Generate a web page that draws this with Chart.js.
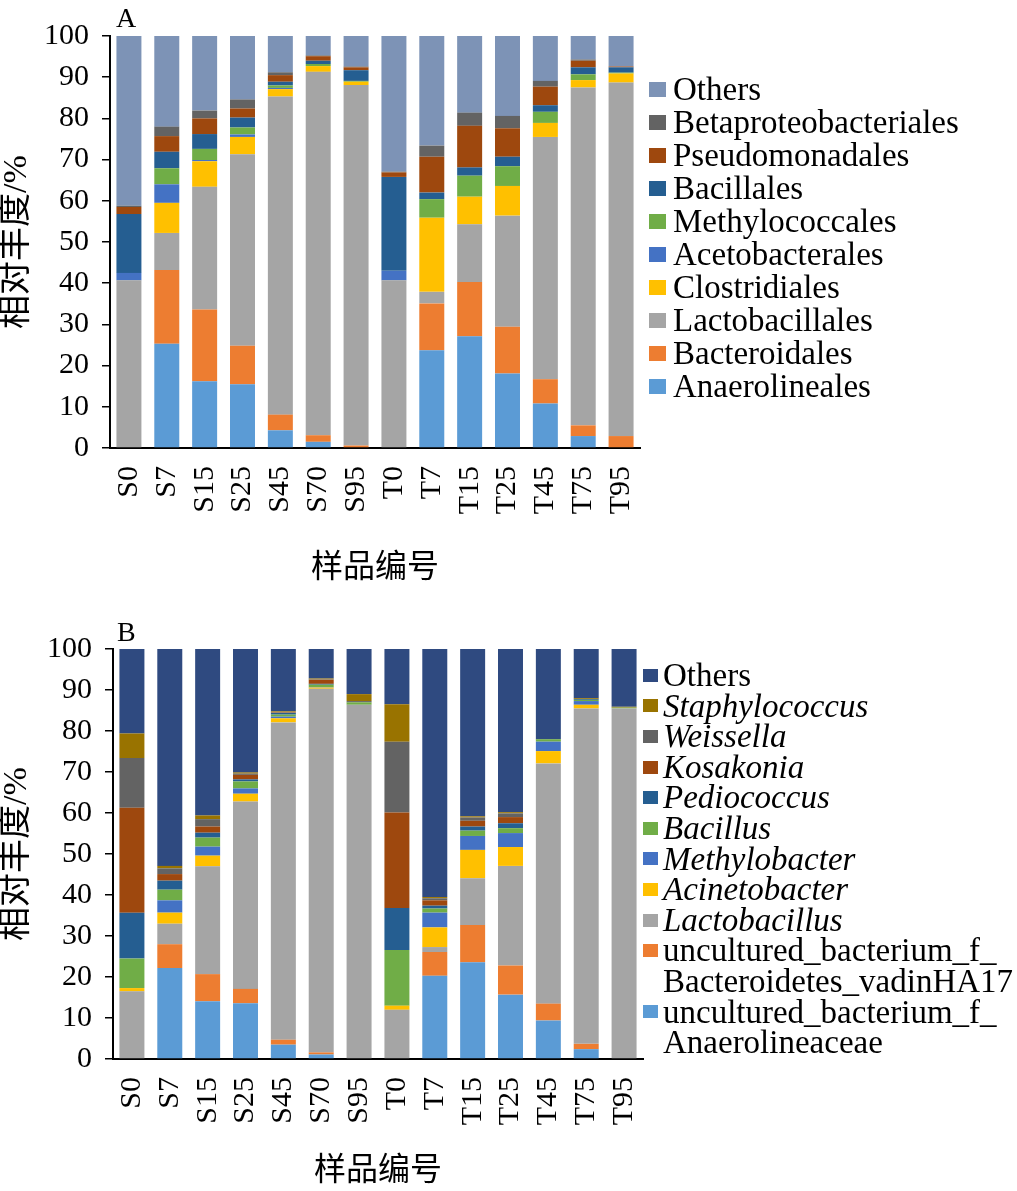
<!DOCTYPE html>
<html><head><meta charset="utf-8">
<script src="https://cdn.jsdelivr.net/npm/chart.js@4.4.1/dist/chart.umd.min.js"></script>
<style>
html,body{margin:0;padding:0;background:#fff;}
body{width:1017px;height:1191px;position:relative;overflow:hidden;font-family:'Liberation Serif','Times New Roman','Noto Sans CJK SC',serif;}
#wa{position:absolute;left:0;top:0;width:1017px;height:600px;}
#wb{position:absolute;left:0;top:600px;width:1017px;height:591px;}
.lg{position:absolute;color:#000;white-space:nowrap;font-size:33px;}
.it{position:relative;}
.bx{position:absolute;left:0;}
.lt{position:absolute;color:#000;line-height:1;}
</style></head><body>
<div id="wa"><canvas id="ca"></canvas></div>
<div id="wb"><canvas id="cb"></canvas></div>
<div class="lt" style="left:116px;top:4px;font-size:28px;">A</div>
<div class="lt" style="left:117px;top:618px;font-size:28px;">B</div>
<div class="lg" id="lgA" style="left:649px;top:73px;"></div>
<div class="lg" id="lgB" style="left:643px;top:660px;"></div>
<script>
// ---------- shared ----------
const samples = ['S0','S7','S15','S25','S45','S70','S95','T0','T7','T15','T25','T45','T75','T95'];
const yMin = 0, yMax = 100, yStep = 10;
const yTitle = '相对丰度/%';
const xTitle = '样品编号';

// ---------- panel A (order level) ----------
const anaerolineales        = [0, 25.3, 16.2, 15.5, 4.3, 1.5, 0, 0, 23.7, 27.1, 18.1, 10.8, 2.9, 0];
const bacteroidales         = [0, 17.9, 17.4, 9.3, 3.8, 1.6, 0.6, 0, 11.4, 13.2, 11.3, 5.9, 2.6, 2.9];
const lactobacillales       = [40.7, 9.0, 29.8, 46.5, 77.2, 88.2, 87.5, 40.7, 2.8, 14.0, 27.0, 58.8, 82.0, 85.8];
const clostridiales         = [0, 7.3, 6.2, 4.2, 1.8, 1.4, 0.8, 0, 18.0, 6.7, 7.2, 3.4, 1.8, 2.2];
const acetobacterales       = [1.8, 4.5, 0.3, 0.6, 0.3, 0, 0, 2.3, 0, 0, 0, 0, 0, 0];
const methylococcales       = [0, 3.9, 2.7, 1.7, 0.6, 0.5, 0.2, 0, 4.5, 5.1, 4.8, 2.7, 1.4, 0.2];
const bacillales            = [14.3, 4.0, 3.6, 2.4, 0.9, 0.8, 2.6, 22.8, 1.6, 2.0, 2.3, 1.6, 1.7, 1.3];
const pseudomonadales       = [1.7, 3.8, 3.8, 2.2, 1.6, 1.1, 0.7, 1.1, 8.7, 10.1, 6.9, 4.5, 1.6, 0.2];
const betaproteobacteriales = [0.3, 2.3, 1.9, 2.2, 0.7, 0.2, 0.2, 0.2, 2.7, 3.2, 3.0, 1.4, 0.3, 0];
const othersA               = [41.2, 22.0, 18.1, 15.4, 8.8, 4.7, 7.4, 32.9, 26.6, 18.6, 19.4, 10.9, 5.7, 7.4];

// ---------- panel B (genus level) ----------
const anaerolineaceae       = [0, 22.2, 14.1, 13.6, 3.5, 1.1, 0, 0, 20.3, 23.6, 15.7, 9.4, 2.4, 0];
const bacteroidetesVadin    = [0, 5.8, 6.6, 3.5, 1.2, 0.5, 0, 0, 5.8, 9.1, 7.1, 4.1, 1.3, 0];
const lactobacillus         = [16.5, 5.0, 26.3, 45.7, 77.4, 88.7, 86.4, 12.0, 1.2, 11.4, 24.3, 58.6, 81.8, 85.5];
const acinetobacter         = [0.8, 2.7, 2.6, 1.9, 1.0, 0.3, 0, 1.0, 4.8, 6.9, 4.6, 3.0, 0.9, 0];
const methylobacter         = [0, 3.0, 2.2, 1.3, 0.4, 0.1, 0, 0, 3.6, 3.4, 3.4, 2.3, 0.9, 0];
const bacillus              = [7.2, 2.6, 2.2, 1.7, 0.5, 0.6, 0.6, 13.6, 1.0, 1.3, 1.2, 0.6, 0.3, 0.2];
const pediococcus           = [11.2, 2.2, 1.2, 0.5, 0.4, 0.2, 0, 10.2, 0.7, 1.0, 1.2, 0, 0.2, 0];
const kosakonia             = [25.6, 1.6, 1.5, 1.1, 0.1, 1.0, 0, 23.3, 1.3, 1.4, 1.5, 0, 0, 0];
const weissella             = [12.1, 1.4, 1.8, 0.3, 0.1, 0.1, 0.3, 17.3, 0.5, 0.8, 0.9, 0, 0, 0];
const staphylococcus        = [6.0, 0.6, 0.9, 0.3, 0.2, 0.2, 1.7, 9.1, 0.3, 0.3, 0.3, 0, 0.2, 0.2];
const othersB               = [20.6, 52.9, 40.6, 30.1, 15.2, 7.2, 11.0, 13.5, 60.5, 40.8, 39.8, 22.0, 12.0, 14.1];

const seriesA = [
  {label:'Anaerolineales', data:anaerolineales, color:'#5B9BD5'},
  {label:'Bacteroidales', data:bacteroidales, color:'#ED7D31'},
  {label:'Lactobacillales', data:lactobacillales, color:'#A5A5A5'},
  {label:'Clostridiales', data:clostridiales, color:'#FFC000'},
  {label:'Acetobacterales', data:acetobacterales, color:'#4472C4'},
  {label:'Methylococcales', data:methylococcales, color:'#70AD47'},
  {label:'Bacillales', data:bacillales, color:'#255E91'},
  {label:'Pseudomonadales', data:pseudomonadales, color:'#9E480E'},
  {label:'Betaproteobacteriales', data:betaproteobacteriales, color:'#636363'},
  {label:'Others', data:othersA, color:'#7D93B6'}
];
const seriesB = [
  {label:'uncultured_bacterium_f_Anaerolineaceae', lines:['uncultured_bacterium_f_','Anaerolineaceae'], data:anaerolineaceae, color:'#5B9BD5'},
  {label:'uncultured_bacterium_f_Bacteroidetes_vadinHA17', lines:['uncultured_bacterium_f_','Bacteroidetes_vadinHA17'], data:bacteroidetesVadin, color:'#ED7D31'},
  {label:'Lactobacillus', italic:true, data:lactobacillus, color:'#A5A5A5'},
  {label:'Acinetobacter', italic:true, data:acinetobacter, color:'#FFC000'},
  {label:'Methylobacter', italic:true, data:methylobacter, color:'#4472C4'},
  {label:'Bacillus', italic:true, data:bacillus, color:'#70AD47'},
  {label:'Pediococcus', italic:true, data:pediococcus, color:'#255E91'},
  {label:'Kosakonia', italic:true, data:kosakonia, color:'#9E480E'},
  {label:'Weissella', italic:true, data:weissella, color:'#636363'},
  {label:'Staphylococcus', italic:true, data:staphylococcus, color:'#997300'},
  {label:'Others', data:othersB, color:'#2F4A80'}
];

const FONT = "'Liberation Serif','Times New Roman','Noto Sans CJK SC',serif";

function makeChart(canvasId, series, geo) {
  return new Chart(document.getElementById(canvasId), {
    type: 'bar',
    data: {
      labels: samples,
      datasets: series.map(s => ({
        label: s.label, data: s.data, backgroundColor: s.color,
        borderWidth: 0, categoryPercentage: 1, barPercentage: 0.66
      }))
    },
    options: {
      responsive: true, maintainAspectRatio: false, animation: false,
      layout: {padding: {left: 0, top: geo.top, right: geo.right, bottom: 0}},
      plugins: {legend: {display: false}, tooltip: {enabled: false}},
      scales: {
        x: {
          stacked: true,
          grid: {display: false, drawTicks: false},
          border: {display: true, color: '#000', width: 2},
          ticks: {color: '#000', font: {family: FONT, size: 30}, minRotation: 90, maxRotation: 90, padding: 18, autoSkip: false},
          title: {display: true, text: xTitle, color: '#000', font: {family: FONT, size: 32}, padding: {top: 0, bottom: geo.xTitlePad}},
          afterFit: sc => { sc.height = geo.xHeight; }
        },
        y: {
          stacked: true, min: yMin, max: yMax,
          grid: {display: true, drawOnChartArea: false, drawTicks: true, tickLength: 8, color: '#000', lineWidth: 1.5},
          border: {display: true, color: '#000', width: 2},
          ticks: {stepSize: yStep, color: '#000', font: {family: FONT, size: 30}, padding: 13},
          title: {display: true, text: yTitle, color: '#000', font: {family: FONT, size: 34, lineHeight: 1}, padding: 0},
          afterFit: sc => { sc.width = geo.yWidth; }
        }
      }
    }
  });
}

makeChart('ca', seriesA, {top: 36, right: 377, xHeight: 152, yWidth: 110, xTitlePad: 12});
makeChart('cb', seriesB, {top: 49, right: 374, xHeight: 132, yWidth: 113, xTitlePad: 0});

function buildLegend(id, series, lineH, boxW, boxH, textLeft) {
  const el = document.getElementById(id);
  series.slice().reverse().forEach(s => {
    const lines = s.lines || [s.label];
    const it = document.createElement('div');
    it.className = 'it';
    it.style.lineHeight = lineH + 'px';
    it.style.paddingLeft = textLeft + 'px';
    if (s.italic) it.style.fontStyle = 'italic';
    const bx = document.createElement('span');
    bx.className = 'bx';
    bx.style.width = boxW + 'px'; bx.style.height = boxH + 'px';
    bx.style.top = ((lineH - boxH) / 2) + 'px';
    bx.style.background = s.color;
    it.appendChild(bx);
    lines.forEach(t => { const d = document.createElement('div'); d.textContent = t; it.appendChild(d); });
    el.appendChild(it);
  });
}
buildLegend('lgA', seriesA, 33, 17, 15, 24);
buildLegend('lgB', seriesB, 30.6, 15, 13, 20);
</script>
</body></html>
